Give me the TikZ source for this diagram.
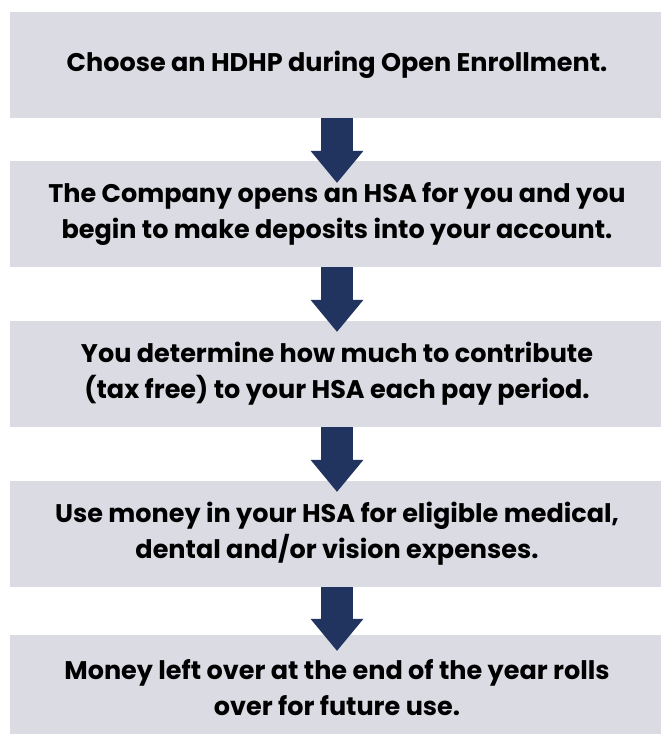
\documentclass[tikz,border=0pt]{standalone}
\usepackage{fontspec}
\setmainfont{Poppins}
\usetikzlibrary{arrows.meta,positioning}
\definecolor{boxgray}{RGB}{219,219,228}
\definecolor{arrownavy}{RGB}{33,52,96}

\begin{document}
\begin{tikzpicture}[
x=1pt,y=1pt,
stepbox/.style={
	fill=boxgray,
	minimum width=654pt,
	minimum height=106pt,
	inner sep=0pt,
	align=center,
	font=\fontsize{25.5}{36}\selectfont\bfseries
},
flowarrow/.style={
	draw=arrownavy,
	line width=32pt,
	-{Triangle[width=53pt,length=32pt,line width=0pt,fill=arrownavy]}
}
]
\path[use as bounding box,clip] (0,0) rectangle (661,-734);

\node[stepbox] (s1) at (337,-64.5) {Choose an HDHP during Open Enrollment.};
\node[stepbox] (s2) at (337,-214) {The Company opens an HSA for you and you\\begin to make deposits into your account.};
\node[stepbox] (s3) at (337,-374) {You determine how much to contribute\\(tax free) to your HSA each pay period.};
\node[stepbox] (s4) at (337,-534) {Use money in your HSA for eligible medical,\\dental and/or vision expenses.};
\node[stepbox] (s5) at (337,-688) {Money left over at the end of the year rolls\\over for future use.};

\foreach \a/\b/\d in {1/2/22pt,2/3/11pt,3/4/11pt,4/5/16pt}
\draw[flowarrow] (s\a.south) -- ([yshift=-\d]s\b.north);
\end{tikzpicture}
\end{document}
